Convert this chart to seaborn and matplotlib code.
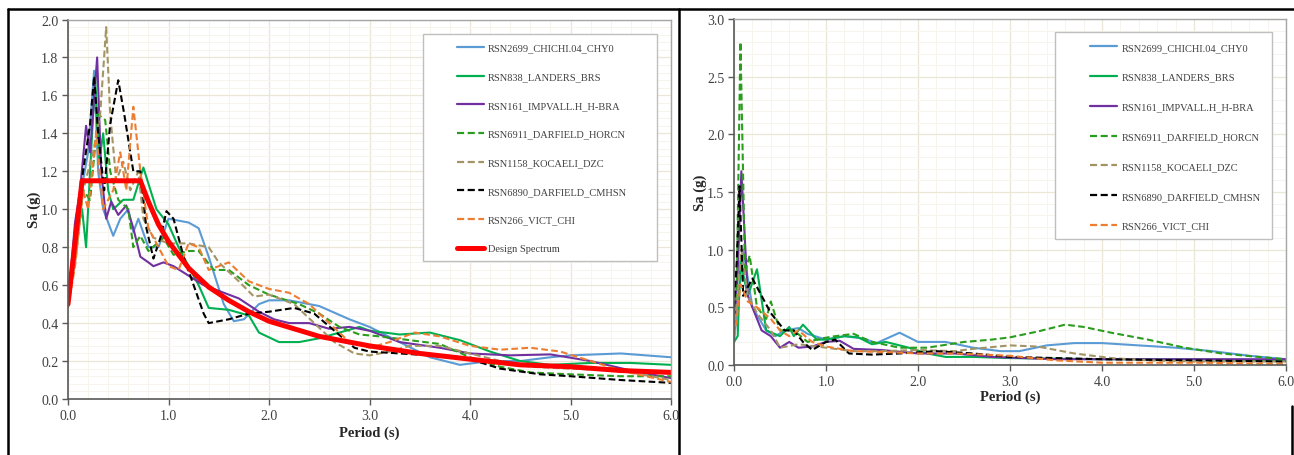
import matplotlib
matplotlib.use("Agg")
import matplotlib.pyplot as plt
from matplotlib.patches import Rectangle
from matplotlib.lines import Line2D
from matplotlib.ticker import MultipleLocator, FormatStrFormatter
import seaborn as sns
import pandas as pd

# ---------------- series names / styles ----------------
names = ["RSN2699_CHICHI.04_CHY0", "RSN838_LANDERS_BRS", "RSN161_IMPVALL.H_H-BRA",
         "RSN6911_DARFIELD_HORCN", "RSN1158_KOCAELI_DZC", "RSN6890_DARFIELD_CMHSN",
         "RSN266_VICT_CHI"]
colors = ["#5b9bd5", "#00b050", "#7030a0", "#2a9d1f", "#a39466", "#000000", "#ed7d31"]
dashed = [False, False, False, True, True, True, True]

# ---------------- left panel: scaled records ----------------
L_T_2699 = [0, 0.08, 0.15, 0.2, 0.26, 0.3, 0.35, 0.45, 0.52, 0.6, 0.65, 0.7, 0.8, 0.9, 1.0, 1.2, 1.3, 1.4, 1.55, 1.65, 1.75, 1.9, 2.0, 2.2, 2.5, 2.8, 3.0, 3.3, 3.6, 3.9, 4.2, 4.5, 4.8, 5.0, 5.5, 6.0]
L_S_2699 = [0.5, 0.8, 1.15, 1.3, 1.73, 1.2, 1.0, 0.86, 0.95, 1.0, 0.88, 0.95, 0.8, 0.8, 0.95, 0.93, 0.9, 0.75, 0.5, 0.41, 0.42, 0.5, 0.52, 0.52, 0.49, 0.42, 0.38, 0.3, 0.22, 0.18, 0.2, 0.2, 0.22, 0.23, 0.24, 0.22]

L_T_838 = [0, 0.08, 0.14, 0.18, 0.22, 0.27, 0.31, 0.35, 0.4, 0.45, 0.55, 0.65, 0.75, 0.88, 1.0, 1.1, 1.3, 1.4, 1.6, 1.8, 1.9, 2.1, 2.3, 2.5, 2.7, 2.9, 3.0, 3.3, 3.6, 3.9, 4.2, 4.5, 4.8, 5.2, 5.6, 6.0]
L_S_838 = [0.5, 0.85, 1.0, 0.8, 1.2, 1.7, 1.25, 1.4, 1.1, 1.0, 1.05, 1.05, 1.22, 1.0, 0.92, 0.8, 0.6, 0.48, 0.47, 0.44, 0.35, 0.3, 0.3, 0.32, 0.35, 0.38, 0.36, 0.34, 0.35, 0.31, 0.25, 0.2, 0.18, 0.19, 0.19, 0.18]

L_T_161 = [0, 0.07, 0.12, 0.18, 0.22, 0.29, 0.33, 0.38, 0.43, 0.5, 0.58, 0.65, 0.72, 0.8, 0.85, 0.95, 1.05, 1.2, 1.35, 1.5, 1.7, 1.9, 2.05, 2.2, 2.4, 2.6, 2.8, 3.0, 3.3, 3.7, 4.0, 4.4, 4.8, 5.2, 5.6, 6.0]
L_S_161 = [0.5, 0.93, 1.1, 1.44, 1.3, 1.8, 1.2, 0.95, 1.04, 0.97, 1.02, 0.9, 0.75, 0.72, 0.7, 0.72, 0.7, 0.65, 0.6, 0.57, 0.53, 0.46, 0.42, 0.4, 0.4, 0.37, 0.38, 0.36, 0.3, 0.27, 0.24, 0.23, 0.235, 0.2, 0.15, 0.11]

L_T_6911 = [0, 0.08, 0.15, 0.22, 0.3, 0.37, 0.42, 0.5, 0.6, 0.65, 0.72, 0.8, 0.95, 1.05, 1.2, 1.3, 1.45, 1.6, 1.8, 2.0, 2.3, 2.5, 2.7, 2.9, 3.1, 3.4, 3.7, 4.0, 4.3, 4.6, 5.0, 5.5, 6.0]
L_S_6911 = [0.5, 0.8, 1.1, 1.05, 1.5, 1.47, 1.2, 1.05, 1.0, 0.8, 0.86, 0.78, 0.85, 0.76, 0.78, 0.78, 0.68, 0.68, 0.6, 0.55, 0.5, 0.45, 0.38, 0.34, 0.33, 0.31, 0.29, 0.22, 0.17, 0.14, 0.13, 0.12, 0.12]

L_T_1158 = [0, 0.08, 0.15, 0.25, 0.32, 0.38, 0.42, 0.48, 0.55, 0.62, 0.7, 0.75, 0.85, 1.0, 1.2, 1.4, 1.5, 1.7, 1.85, 2.0, 2.25, 2.45, 2.65, 2.85, 3.0, 3.2, 3.4, 3.7, 4.0, 4.3, 4.6, 5.0, 5.5, 6.0]
L_S_1158 = [0.5, 0.75, 1.1, 1.3, 1.5, 1.96, 1.5, 1.15, 1.25, 1.1, 1.2, 0.95, 0.85, 0.82, 0.82, 0.8, 0.72, 0.62, 0.54, 0.55, 0.5, 0.4, 0.3, 0.24, 0.23, 0.25, 0.28, 0.28, 0.24, 0.2, 0.17, 0.16, 0.15, 0.1]

L_T_6890 = [0, 0.08, 0.15, 0.22, 0.26, 0.3, 0.36, 0.42, 0.5, 0.56, 0.65, 0.72, 0.78, 0.85, 0.92, 0.98, 1.05, 1.15, 1.25, 1.35, 1.4, 1.6, 1.8, 2.0, 2.25, 2.45, 2.65, 2.85, 3.0, 3.3, 3.6, 4.0, 4.3, 4.7, 5.0, 5.5, 6.0]
L_S_6890 = [0.5, 0.9, 1.2, 1.45, 1.7, 1.4, 1.1, 1.45, 1.68, 1.5, 1.2, 1.2, 0.9, 0.74, 0.85, 0.99, 0.95, 0.75, 0.6, 0.45, 0.4, 0.42, 0.45, 0.46, 0.48, 0.45, 0.36, 0.27, 0.25, 0.24, 0.23, 0.21, 0.16, 0.13, 0.12, 0.1, 0.085]

L_T_266 = [0, 0.07, 0.15, 0.2, 0.28, 0.35, 0.45, 0.52, 0.58, 0.65, 0.72, 0.8, 0.9, 1.0, 1.1, 1.2, 1.3, 1.4, 1.6, 1.8, 2.0, 2.2, 2.4, 2.6, 2.8, 3.0, 3.2, 3.45, 3.7, 4.0, 4.3, 4.6, 4.9, 5.2, 5.5, 6.0]
L_S_266 = [0.48, 0.7, 1.1, 1.0, 1.4, 1.0, 1.1, 1.3, 1.1, 1.54, 1.2, 0.9, 0.8, 0.7, 0.68, 0.82, 0.8, 0.68, 0.72, 0.62, 0.58, 0.56, 0.5, 0.4, 0.3, 0.27, 0.3, 0.35, 0.33, 0.28, 0.26, 0.27, 0.25, 0.2, 0.15, 0.09]

# design spectrum
DS_T = [0, 0.14, 0.72, 0.8, 0.9, 1.0, 1.2, 1.4, 1.6, 1.8, 2.0, 2.5, 3.0, 3.5, 4.0, 4.5, 5.0, 5.5, 6.0]
DS_S = [0.5, 1.15, 1.15, 1.04, 0.92, 0.83, 0.69, 0.59, 0.52, 0.46, 0.41, 0.33, 0.28, 0.24, 0.21, 0.18, 0.17, 0.15, 0.14]

# ---------------- right panel: unscaled records ----------------
R_T_2699 = [0, 0.05, 0.1, 0.2, 0.35, 0.45, 0.55, 0.7, 0.8, 1.0, 1.2, 1.4, 1.55, 1.8, 2.0, 2.3, 2.6, 2.9, 3.1, 3.4, 3.7, 4.0, 4.4, 4.8, 5.2, 5.6, 6.0]
R_S_2699 = [0.2, 0.6, 1.0, 0.5, 0.3, 0.25, 0.3, 0.32, 0.27, 0.22, 0.25, 0.23, 0.19, 0.28, 0.2, 0.2, 0.15, 0.12, 0.12, 0.17, 0.19, 0.19, 0.17, 0.15, 0.12, 0.08, 0.05]

R_T_838 = [0, 0.04, 0.07, 0.15, 0.25, 0.35, 0.5, 0.6, 0.65, 0.75, 0.9, 1.0, 1.2, 1.35, 1.5, 1.65, 1.9, 2.1, 2.3, 2.6, 3.0, 4.0, 5.0, 6.0]
R_S_838 = [0.2, 0.25, 0.9, 0.6, 0.83, 0.3, 0.25, 0.33, 0.25, 0.35, 0.22, 0.22, 0.25, 0.24, 0.18, 0.2, 0.15, 0.1, 0.07, 0.07, 0.06, 0.05, 0.05, 0.04]

R_T_161 = [0, 0.04, 0.08, 0.15, 0.2, 0.3, 0.4, 0.5, 0.6, 0.7, 0.85, 1.0, 1.15, 1.3, 1.6, 2.0, 2.4, 2.8, 3.5, 4.5, 6.0]
R_S_161 = [0.3, 0.8, 1.68, 0.6, 0.5, 0.3, 0.25, 0.15, 0.2, 0.15, 0.16, 0.2, 0.21, 0.14, 0.13, 0.1, 0.1, 0.07, 0.05, 0.05, 0.05]

R_T_6911 = [0, 0.03, 0.07, 0.12, 0.17, 0.25, 0.35, 0.4, 0.5, 0.65, 0.8, 0.95, 1.1, 1.3, 1.5, 1.8, 2.1, 2.5, 2.8, 3.0, 3.3, 3.6, 3.8, 4.1, 4.5, 4.9, 5.3, 5.7, 6.0]
R_S_6911 = [0.3, 0.7, 2.8, 0.8, 0.95, 0.5, 0.4, 0.55, 0.3, 0.3, 0.2, 0.23, 0.25, 0.27, 0.2, 0.15, 0.15, 0.2, 0.22, 0.24, 0.29, 0.35, 0.33, 0.28, 0.22, 0.15, 0.1, 0.07, 0.05]

R_T_1158 = [0, 0.04, 0.08, 0.15, 0.25, 0.4, 0.5, 0.7, 1.0, 1.3, 1.6, 2.0, 2.4, 2.6, 3.0, 3.3, 3.7, 4.1, 4.5, 5.0, 6.0]
R_S_1158 = [0.3, 0.6, 1.0, 0.6, 0.45, 0.3, 0.15, 0.18, 0.15, 0.12, 0.12, 0.13, 0.12, 0.14, 0.17, 0.16, 0.1, 0.06, 0.04, 0.03, 0.03]

R_T_6890 = [0, 0.03, 0.06, 0.1, 0.2, 0.3, 0.4, 0.55, 0.65, 0.75, 0.85, 1.0, 1.1, 1.25, 1.5, 1.8, 2.2, 2.6, 3.0, 3.5, 4.0, 5.0, 6.0]
R_S_6890 = [0.5, 0.9, 1.55, 0.6, 0.75, 0.6, 0.45, 0.3, 0.3, 0.2, 0.13, 0.2, 0.22, 0.1, 0.09, 0.1, 0.12, 0.1, 0.07, 0.06, 0.05, 0.04, 0.03]

R_T_266 = [0, 0.03, 0.07, 0.15, 0.25, 0.4, 0.5, 0.6, 0.7, 0.85, 1.0, 1.3, 1.7, 2.0, 2.4, 3.0, 3.5, 4.0, 5.0, 6.0]
R_S_266 = [0.25, 0.4, 0.7, 0.55, 0.5, 0.4, 0.3, 0.25, 0.3, 0.2, 0.16, 0.12, 0.11, 0.1, 0.1, 0.08, 0.04, 0.02, 0.02, 0.01]

left_T = [L_T_2699, L_T_838, L_T_161, L_T_6911, L_T_1158, L_T_6890, L_T_266]
left_S = [L_S_2699, L_S_838, L_S_161, L_S_6911, L_S_1158, L_S_6890, L_S_266]
right_T = [R_T_2699, R_T_838, R_T_161, R_T_6911, R_T_1158, R_T_6890, R_T_266]
right_S = [R_S_2699, R_S_838, R_S_161, R_S_6911, R_S_1158, R_S_6890, R_S_266]


def long_df(Ts, Ss):
    rows = []
    for n, T, S in zip(names, Ts, Ss):
        for t, s in zip(T, S):
            rows.append({"series": n, "T": t, "Sa": s})
    return pd.DataFrame(rows)


sns.set_theme(style="white")
plt.rcParams["font.family"] = ["Liberation Serif", "DejaVu Serif"]

W, H = 1294, 456
fig = plt.figure(figsize=(W / 100, H / 100), dpi=100)


def px_axes(x0, x1, ytop, ybot):
    return fig.add_axes([x0 / W, (H - ybot) / H, (x1 - x0) / W, (ybot - ytop) / H])


axL = px_axes(68, 671, 20.5, 400)
axR = px_axes(734, 1286, 20, 366)

palette = dict(zip(names, colors))
dash_map = {n: ((3.2, 1.6) if d else "") for n, d in zip(names, dashed)}


def style_axes(ax, ymax, ymajor, yminor, xpad, ypad):
    ax.set_xlim(0, 6)
    ax.set_ylim(0, ymax)
    ax.xaxis.set_major_locator(MultipleLocator(1.0))
    ax.xaxis.set_minor_locator(MultipleLocator(0.2))
    ax.yaxis.set_major_locator(MultipleLocator(ymajor))
    ax.yaxis.set_minor_locator(MultipleLocator(yminor))
    ax.xaxis.set_major_formatter(FormatStrFormatter("%.1f"))
    ax.yaxis.set_major_formatter(FormatStrFormatter("%.1f"))
    ax.set_axisbelow(True)
    ax.grid(which="major", color="#ebe7d6", linewidth=0.9)
    ax.grid(which="minor", color="#f6f4ec", linewidth=0.7)
    for s in ["top", "right"]:
        ax.spines[s].set_color("#a6a6a6")
        ax.spines[s].set_linewidth(1.0)
    for s in ["left", "bottom"]:
        ax.spines[s].set_color("#595959")
        ax.spines[s].set_linewidth(1.2)
    ax.tick_params(which="major", direction="out", length=4, width=1, color="#595959",
                   labelsize=10, labelcolor="#404040", pad=3, left=True, bottom=True)
    ax.tick_params(which="minor", length=0)
    ax.set_xlabel("Period (s)", fontsize=10.5, fontweight="bold", color="#262626", labelpad=xpad)
    ax.set_ylabel("Sa (g)", fontsize=10.5, fontweight="bold", color="#262626", labelpad=ypad)


# left panel
dfL = long_df(left_T, left_S)
sns.lineplot(data=dfL, x="T", y="Sa", hue="series", style="series", hue_order=names,
             style_order=names, palette=palette, dashes=dash_map, sort=False,
             estimator=None, linewidth=1.5, legend=False, ax=axL)
dfD = pd.DataFrame({"T": DS_T, "Sa": DS_S})
sns.lineplot(data=dfD, x="T", y="Sa", color="#ff0000", linewidth=3.6, sort=False,
             estimator=None, legend=False, ax=axL)
style_axes(axL, 2.0, 0.2, 0.04, 3, 0)

# right panel
dfR = long_df(right_T, right_S)
sns.lineplot(data=dfR, x="T", y="Sa", hue="series", style="series", hue_order=names,
             style_order=names, palette=palette, dashes=dash_map, sort=False,
             estimator=None, linewidth=1.5, legend=False, ax=axR)
style_axes(axR, 3.0, 0.5, 0.1, 1, 0)


def make_legend(ax, labels, box, anchor, spacing):
    handles = []
    for c, d in zip(colors, dashed):
        h = Line2D([], [], color=c, linewidth=1.6)
        if d:
            h.set_dashes((3.2, 1.6))
        handles.append(h)
    labs = list(labels)
    if len(labels) == 8:
        handles.append(Line2D([], [], color="#ff0000", linewidth=3.6))
    x0, y0, x1, y1 = box
    ax.add_patch(Rectangle((x0, y0), x1 - x0, y1 - y0, transform=ax.transAxes,
                           facecolor="white", edgecolor="#bfbfbf", linewidth=1.0, zorder=5))
    leg = ax.legend(handles, labs, loc="upper left", bbox_to_anchor=anchor,
                    frameon=False, fontsize=7.5, handlelength=2.6, handletextpad=0.4,
                    labelspacing=spacing, borderpad=0, borderaxespad=0)
    leg.set_zorder(6)
    for t in leg.get_texts():
        t.set_color("#404040")


make_legend(axL, names + ["Design Spectrum"], (0.589, 0.364, 0.977, 0.962),
            (0.645, 0.937), 1.86)
make_legend(axR, names, (0.5815, 0.364, 0.9746, 0.962), (0.645, 0.932), 1.97)

# outer table frame
frame_kw = dict(color="black", linewidth=1.8, transform=fig.transFigure)
fig.add_artist(Line2D([8 / W, 1 - 0.5 / W], [1 - 10 / H, 1 - 10 / H], **frame_kw))
fig.add_artist(Line2D([8 / W, 8 / W], [0, 1 - 10 / H], **frame_kw))
fig.add_artist(Line2D([678.5 / W, 678.5 / W], [0, 1 - 10 / H], **frame_kw))
fig.add_artist(Line2D([1291.5 / W, 1291.5 / W], [0, 1 - 407 / H], **frame_kw))

fig.savefig("out.png", dpi=100, facecolor="white")
